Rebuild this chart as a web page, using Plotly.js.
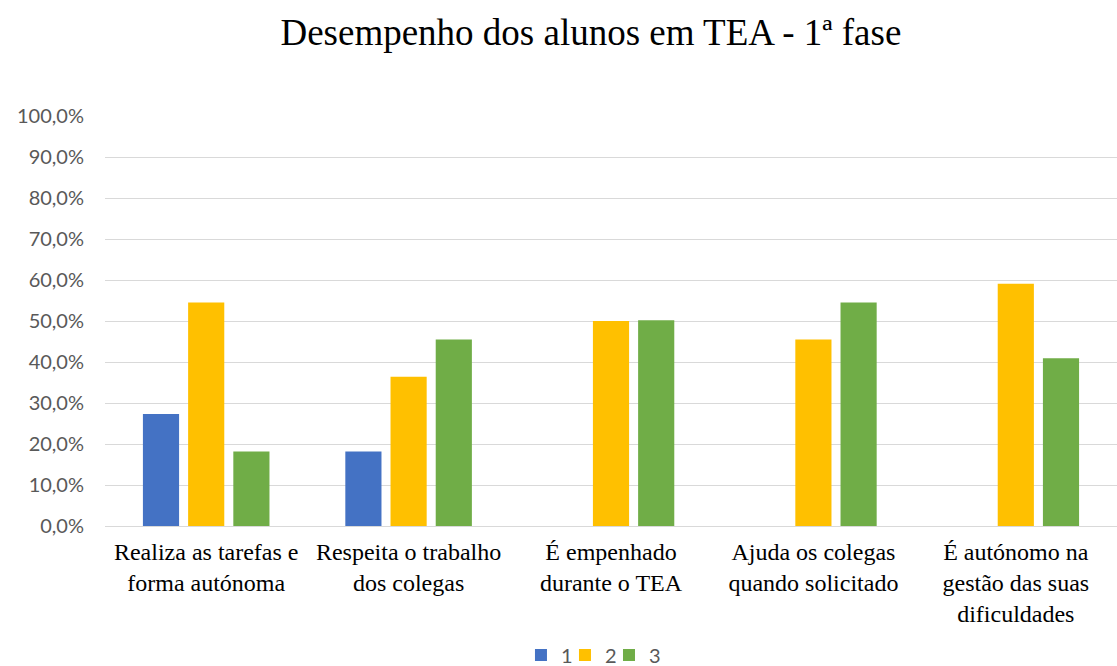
<!DOCTYPE html>
<html>
<head>
<meta charset="utf-8">
<script src="https://cdn.plot.ly/plotly-3.0.1.min.js"></script>
<style>html,body{margin:0;padding:0;background:#fff;}#chart{width:1117px;height:666px;}</style>
</head>
<body>
<div id="chart"></div>
<script>
const categories = [
  "Realiza as tarefas e<br>forma autónoma",
  "Respeita o trabalho<br>dos colegas",
  "É empenhado<br>durante o TEA",
  "Ajuda os colegas<br>quando solicitado",
  "É autónomo na<br>gestão das suas<br>dificuldades"
];
const seriesNames = ["1", "2", "3"];
const values1 = [0.273, 0.182, 0, 0, 0];
const values2 = [0.545, 0.364, 0.500, 0.455, 0.591];
const values3 = [0.182, 0.455, 0.502, 0.545, 0.409];
const colors = ["#4472C4", "#FFC000", "#70AD47"];
const yTicks = [0, 0.1, 0.2, 0.3, 0.4, 0.5, 0.6, 0.7, 0.8, 0.9, 1.0];

const serif = "'Liberation Serif', 'Times New Roman', serif";
const sans = "Lato, 'Open Sans', sans-serif";

const legendIds = ['legend', 'legend2', 'legend3'];
const legendX = [0.4664, 0.5058, 0.5452];

const allValues = [values1, values2, values3];
const traces = allValues.map((v, i) => ({
  type: 'bar',
  name: seriesNames[i],
  x: categories,
  y: v,
  marker: {color: colors[i]},
  legend: legendIds[i],
  hoverinfo: 'x+y'
}));

function legendCfg(x) {
  return {
    orientation: 'h',
    x: x, xref: 'container', xanchor: 'left',
    y: 0.0165, yref: 'container', yanchor: 'middle',
    font: {family: sans, size: 20, color: '#595959'},
    itemwidth: 30,
    bgcolor: 'rgba(0,0,0,0)'
  };
}

const layout = {
  width: 1117, height: 666,
  margin: {l: 105, r: 0, t: 116, b: 140, autoexpand: false},
  paper_bgcolor: '#fff', plot_bgcolor: '#fff',
  separators: ',.',
  barmode: 'group',
  bargap: 0.33,
  bargroupgap: 0.2,
  title: {
    text: 'Desempenho dos alunos em TEA - 1ª fase',
    font: {family: serif, size: 37, color: '#000'},
    x: 0.529, xref: 'container', xanchor: 'center',
    y: 0.952, yref: 'container', yanchor: 'middle'
  },
  xaxis: {
    type: 'category',
    tickfont: {family: serif, size: 24, color: '#000'},
    tickangle: 0,
    showgrid: false,
    showline: false,
    ticks: '',
    ticklabelstandoff: 9,
    automargin: false
  },
  yaxis: {
    range: [0, 1],
    tickvals: yTicks,
    tickformat: '.1%',
    tickfont: {family: sans, size: 20, color: '#595959'},
    gridcolor: '#d9d9d9',
    gridwidth: 1,
    zeroline: true,
    zerolinecolor: '#d9d9d9',
    zerolinewidth: 1,
    showline: false,
    ticks: '',
    ticklabelstandoff: 20,
    automargin: false,
    fixedrange: true
  },
  showlegend: true,
  legend: legendCfg(legendX[0]),
  legend2: legendCfg(legendX[1]),
  legend3: legendCfg(legendX[2])
};

Plotly.newPlot('chart', traces, layout, {displayModeBar: false, staticPlot: true});
</script>
</body>
</html>
